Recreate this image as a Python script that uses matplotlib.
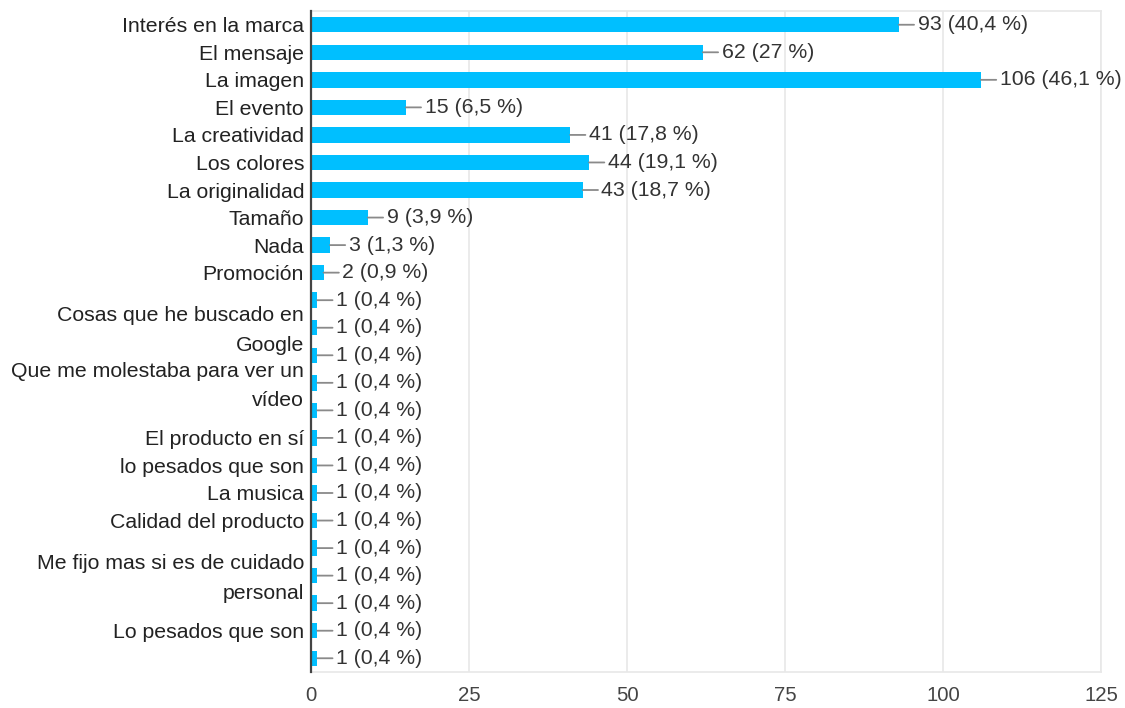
import matplotlib
matplotlib.use("Agg")
import matplotlib.pyplot as plt
from matplotlib.transforms import ScaledTranslation

plt.rcParams["font.family"] = ["Liberation Sans", "DejaVu Sans"]

# respuestas por opción (230 personas respondieron)
labels = [
    "Interés en la marca", "El mensaje", "La imagen", "El evento",
    "La creatividad", "Los colores", "La originalidad", "Tamaño",
    "Nada", "Promoción", "", "Cosas que he buscado en\nGoogle", "",
    "Que me molestaba para ver un\nvídeo", "", "El producto en sí",
    "lo pesados que son", "La musica", "Calidad del producto", "",
    "Me fijo mas si es de cuidado\npersonal", "", "Lo pesados que son", "",
]
counts = [93, 62, 106, 15, 41, 44, 43, 9, 3, 2,
          1, 1, 1, 1, 1, 1, 1, 1, 1, 1, 1, 1, 1, 1]
percents = ["40,4", "27", "46,1", "6,5", "17,8", "19,1", "18,7", "3,9",
            "1,3", "0,9", "0,4", "0,4", "0,4", "0,4", "0,4", "0,4",
            "0,4", "0,4", "0,4", "0,4", "0,4", "0,4", "0,4", "0,4"]
x_ticks = [0, 25, 50, 75, 100, 125]

BAR = "#00bfff"
GRID = "#e8e8e8"
FS = 15.3

fig = plt.figure(figsize=(11.25, 7.08), dpi=100)
ax = fig.add_axes([0.2764, 0.0508, 0.7023, 0.9337])

ypos = list(range(len(counts)))
ax.barh(ypos, counts, height=0.56, color=BAR, zorder=3)

for y, v, p in zip(ypos, counts, percents):
    ax.annotate(f"{v} ({p} %)", xy=(v, y), xytext=(13.5, 0),
                textcoords="offset points", ha="left", va="center",
                fontsize=FS, color="#333333", zorder=4,
                arrowprops=dict(arrowstyle="-", color="#8a8a8a", lw=1.3,
                                shrinkA=0.5, shrinkB=0))

ax.set_xlim(0, 125)
ax.set_ylim(len(counts) - 0.5, -0.5)
ax.set_xticks(x_ticks)
ax.set_xticklabels([str(t) for t in x_ticks])
ax.set_yticks(ypos)
ax.set_yticklabels(labels)

ax.tick_params(axis="y", length=0, pad=5, labelsize=FS, labelcolor="#222222")
ax.tick_params(axis="x", length=0, pad=10, labelsize=FS - 0.6, labelcolor="#444444")

# etiquetas largas partidas en dos líneas, un poco más separadas
nudge = ScaledTranslation(0, -3 / 100, fig.dpi_scale_trans)
for tick in ax.yaxis.get_major_ticks():
    t = tick.label1
    if "\n" in t.get_text():
        t.set_linespacing(1.7)
        t.set_verticalalignment("center")
        t.set_transform(t.get_transform() + nudge)

ax.grid(axis="x", color=GRID, lw=1.2, zorder=0)
for side in ["top", "bottom", "right"]:
    ax.spines[side].set_color(GRID)
    ax.spines[side].set_linewidth(1.2)
ax.spines["left"].set_color("#444444")
ax.spines["left"].set_linewidth(1.6)
ax.spines["left"].set_zorder(5)

fig.savefig("out.png", dpi=100)
